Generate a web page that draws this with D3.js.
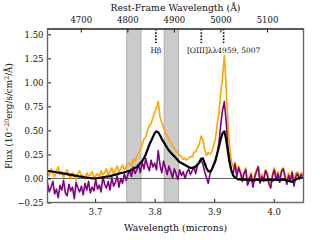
<!DOCTYPE html>
<html><head><meta charset="utf-8">
<script src="https://cdn.jsdelivr.net/npm/d3@7"></script>
<style>body{margin:0;background:#fff}svg{display:block}text{font-family:"DejaVu Serif";fill:#111}</style>
</head><body><svg id="c" width="320" height="240"></svg>
<script>
const wave=[3.620,3.623,3.626,3.629,3.632,3.635,3.638,3.641,3.644,3.647,3.650,3.653,3.656,3.659,3.662,3.665,3.668,3.671,3.674,3.677,3.680,3.683,3.686,3.689,3.692,3.695,3.698,3.701,3.704,3.707,3.710,3.713,3.716,3.719,3.722,3.725,3.728,3.731,3.734,3.737,3.740,3.743,3.746,3.749,3.752,3.755,3.758,3.761,3.764,3.767,3.770,3.773,3.776,3.779,3.782,3.785,3.788,3.791,3.794,3.797,3.800,3.803,3.806,3.809,3.812,3.815,3.818,3.821,3.824,3.827,3.830,3.833,3.836,3.839,3.842,3.845,3.848,3.851,3.854,3.857,3.860,3.863,3.866,3.869,3.872,3.875,3.878,3.881,3.884,3.887,3.890,3.893,3.896,3.899,3.902,3.905,3.908,3.911,3.914,3.917,3.920,3.923,3.926,3.929,3.932,3.935,3.938,3.941,3.944,3.947,3.950,3.953,3.956,3.959,3.962,3.965,3.968,3.971,3.974,3.977,3.980,3.983,3.986,3.989,3.992,3.995,3.998,4.001,4.004,4.007,4.010,4.013,4.016,4.019,4.022,4.025,4.028,4.031,4.034,4.037,4.040,4.043,4.046,4.049];
const fluxBlack=[0.08,0.075,0.075,0.07,0.07,0.065,0.06,0.06,0.055,0.05,0.05,0.045,0.04,0.04,0.035,0.03,0.03,0.025,0.02,0.02,0.015,0.01,0.01,0.005,0.005,0.0,0.0,0.0,0.005,0.005,0.01,0.01,0.015,0.02,0.02,0.025,0.03,0.035,0.04,0.045,0.05,0.055,0.06,0.065,0.07,0.075,0.08,0.09,0.10,0.11,0.12,0.14,0.16,0.18,0.21,0.25,0.30,0.35,0.39,0.43,0.47,0.49,0.48,0.45,0.41,0.38,0.35,0.32,0.29,0.27,0.25,0.23,0.21,0.19,0.17,0.16,0.15,0.14,0.13,0.12,0.11,0.11,0.115,0.125,0.145,0.17,0.205,0.21,0.16,0.11,0.075,0.07,0.095,0.14,0.19,0.26,0.33,0.41,0.47,0.49,0.41,0.28,0.16,0.08,0.03,0.01,0.0,-0.01,-0.01,-0.01,-0.015,-0.01,-0.015,-0.01,-0.02,-0.015,-0.02,-0.01,-0.015,-0.02,-0.015,-0.01,-0.02,-0.015,-0.01,-0.015,-0.02,-0.015,-0.01,-0.015,-0.02,-0.015,-0.01,-0.015,-0.02,-0.025,-0.03,-0.035,-0.02,-0.01,0.0,0.005,0.01,0.01];
const fluxOrange=[0.06,0.03,0.10,0.05,0.02,0.08,0.12,0.04,0.07,0.01,0.05,0.09,0.03,0.00,0.06,0.04,-0.02,0.05,0.08,0.02,0.03,-0.01,0.06,0.02,0.04,0.07,0.00,0.03,0.05,0.01,0.08,0.04,0.06,0.10,0.03,0.07,0.11,0.05,0.09,0.13,0.07,0.10,0.14,0.09,0.12,0.15,
0.16,0.13,0.20,0.18,0.23,0.26,0.30,0.35,0.41,0.43,0.50,0.55,0.57,0.63,0.69,0.73,0.80,0.64,0.58,0.53,0.47,0.45,0.40,0.38,0.33,0.32,0.28,0.27,0.24,0.23,0.20,0.21,0.19,0.21,0.23,0.22,0.27,0.28,0.32,0.36,0.44,0.40,0.30,0.24,0.27,0.25,0.28,0.34,0.41,0.56,0.69,0.89,1.04,1.28,0.96,0.57,0.33,0.17,0.12,0.17,
0.05,0.13,0.07,0.01,0.06,0.11,-0.03,0.02,0.06,-0.05,0.04,0.09,0.13,-0.01,0.05,0.00,0.09,0.07,-0.02,-0.06,0.05,0.11,0.01,0.07,-0.01,0.09,0.11,0.04,-0.03,0.06,0.00,0.08,-0.04,0.05,0.07,0.02,0.06,0.05];
const fluxPurple=[-0.05,-0.14,-0.09,-0.03,-0.16,-0.11,-0.20,-0.07,-0.12,-0.02,-0.15,-0.18,-0.06,-0.13,-0.09,-0.21,-0.04,-0.10,-0.14,-0.08,-0.17,-0.05,-0.12,-0.03,-0.15,-0.09,-0.13,-0.01,-0.11,-0.07,-0.14,0.02,-0.06,-0.10,-0.03,-0.12,0.01,-0.08,-0.04,0.03,-0.09,0.00,-0.05,0.05,-0.02,0.04,
0.08,0.02,0.12,0.05,0.09,0.14,0.06,0.17,0.10,0.21,0.13,0.08,0.19,0.12,0.16,0.09,0.29,0.14,0.06,0.18,0.11,0.04,0.13,0.07,0.01,0.10,0.05,-0.01,0.09,0.03,0.07,0.00,0.06,0.10,0.04,0.08,0.12,0.05,0.14,0.16,0.19,0.15,0.07,0.01,-0.05,0.05,0.09,0.14,0.17,0.25,0.37,0.56,0.71,0.80,0.60,0.32,0.18,0.08,0.05,0.15,
0.02,0.11,0.06,-0.03,0.05,0.09,-0.07,-0.02,0.04,-0.09,0.01,0.07,0.12,-0.05,0.02,-0.03,0.08,0.04,-0.06,-0.10,0.03,0.09,-0.02,0.05,-0.04,0.07,0.10,0.01,-0.06,0.03,-0.03,0.06,-0.08,0.02,0.05,-0.01,0.04,0.03];
const yTicks=[-0.25,0,0.25,0.5,0.75,1.0,1.25,1.5];
const xTicks=[3.7,3.8,3.9,4.0];
const restTicks=[4700,4800,4900,5000,5100];
const redshift=6.821;
const bands=[[3.753,3.777],[3.816,3.840]];
const lineRest=[4861.3,4958.9,5006.8];

const L=47.5,R=303.5,T=29,B=202.5;
const svg=d3.select("#c");
const x=d3.scaleLinear().domain([3.62,4.05]).range([L,R]);
const y=d3.scaleLinear().domain([-0.25,1.555]).range([B,T]);
const obs=r=>r*(1+redshift)/1e4;
const FF="DejaVu Serif";

svg.append("g").selectAll("rect").data(bands).join("rect")
 .attr("x",d=>x(d[0])).attr("width",d=>x(d[1])-x(d[0]))
 .attr("y",T).attr("height",B-T)
 .attr("fill","#cbcbcb").attr("stroke","#b0b0b0").attr("stroke-width",1);

svg.append("line").attr("x1",L).attr("x2",R).attr("y1",y(0)).attr("y2",y(0))
 .attr("stroke","#333").attr("stroke-width",0.8);

const line=d3.line().x((d,i)=>x(wave[i])).y(d=>y(d));
svg.append("path").datum(fluxOrange).attr("d",line).attr("fill","none").attr("stroke","#ffa500").attr("stroke-width",1.6).attr("stroke-linejoin","round");
svg.append("path").datum(fluxPurple).attr("d",line).attr("fill","none").attr("stroke","#800080").attr("stroke-width",1.6).attr("stroke-linejoin","round");
svg.append("path").datum(fluxBlack).attr("d",line).attr("fill","none").attr("stroke","#000").attr("stroke-width",2.2).attr("stroke-linejoin","round");

svg.append("g").selectAll("line").data(lineRest).join("line")
 .attr("x1",d=>x(obs(d))).attr("x2",d=>x(obs(d))).attr("y1",T).attr("y2",T+14)
 .attr("stroke","#000").attr("stroke-width",1.6).attr("stroke-dasharray","1.6,1.6");
svg.append("text").attr("x",x(obs(lineRest[0]))).attr("y",52.5).attr("text-anchor","middle").attr("font-size",7.5).text("Hβ");
svg.append("text").attr("x",x(obs(lineRest[2]))).attr("y",52.5).attr("text-anchor","middle").attr("font-size",7.5).text("[OIII]λλ4959, 5007");

const yAxis=d3.axisLeft(y).tickValues(yTicks).tickSize(-3.5).tickPadding(4)
 .tickFormat(d=>d3.format(".2f")(d).replace("-","\u2212"));
const gy=svg.append("g").attr("transform",`translate(${L},0)`).call(yAxis);
const xAxis=d3.axisBottom(x).tickValues(xTicks).tickSize(-3.5).tickPadding(6).tickFormat(d3.format(".1f"));
const gx=svg.append("g").attr("transform",`translate(0,${B})`).call(xAxis);
const tAxis=d3.axisTop(x).tickValues(restTicks.map(obs)).tickSize(-3.5).tickPadding(6).tickFormat((d,i)=>restTicks[i]);
const gt=svg.append("g").attr("transform",`translate(0,${T})`).call(tAxis);
[gy,gx,gt].forEach(g=>{g.attr("font-family",FF);g.select(".domain").remove();
 g.selectAll(".tick line").attr("stroke","#111").attr("stroke-width",1);
 g.selectAll(".tick text").attr("font-size",8.5).attr("fill","#111");});

svg.append("rect").attr("x",L).attr("y",T).attr("width",R-L).attr("height",B-T)
 .attr("fill","none").attr("stroke","#666").attr("stroke-width",1.4);
svg.append("line").attr("x1",L).attr("x2",R).attr("y1",T).attr("y2",T).attr("stroke","#222").attr("stroke-width",1.2);

svg.append("text").attr("x",(L+R)/2).attr("y",11).attr("text-anchor","middle").attr("font-size",9.3).text("Rest-Frame Wavelength (Å)");
svg.append("text").attr("x",(L+R)/2).attr("y",231).attr("text-anchor","middle").attr("font-size",9.3).text("Wavelength (microns)");
const yl=svg.append("text").attr("transform","translate(12,116) rotate(-90)").attr("text-anchor","middle").attr("font-size",8.8);
yl.append("tspan").text("Flux (10");
yl.append("tspan").attr("dy",-3.5).attr("font-size",6.3).text("\u221220");
yl.append("tspan").attr("dy",3.5).text("erg/s/cm");
yl.append("tspan").attr("dy",-3.5).attr("font-size",6.3).text("2");
yl.append("tspan").attr("dy",3.5).text("/Å)");
</script></body></html>
